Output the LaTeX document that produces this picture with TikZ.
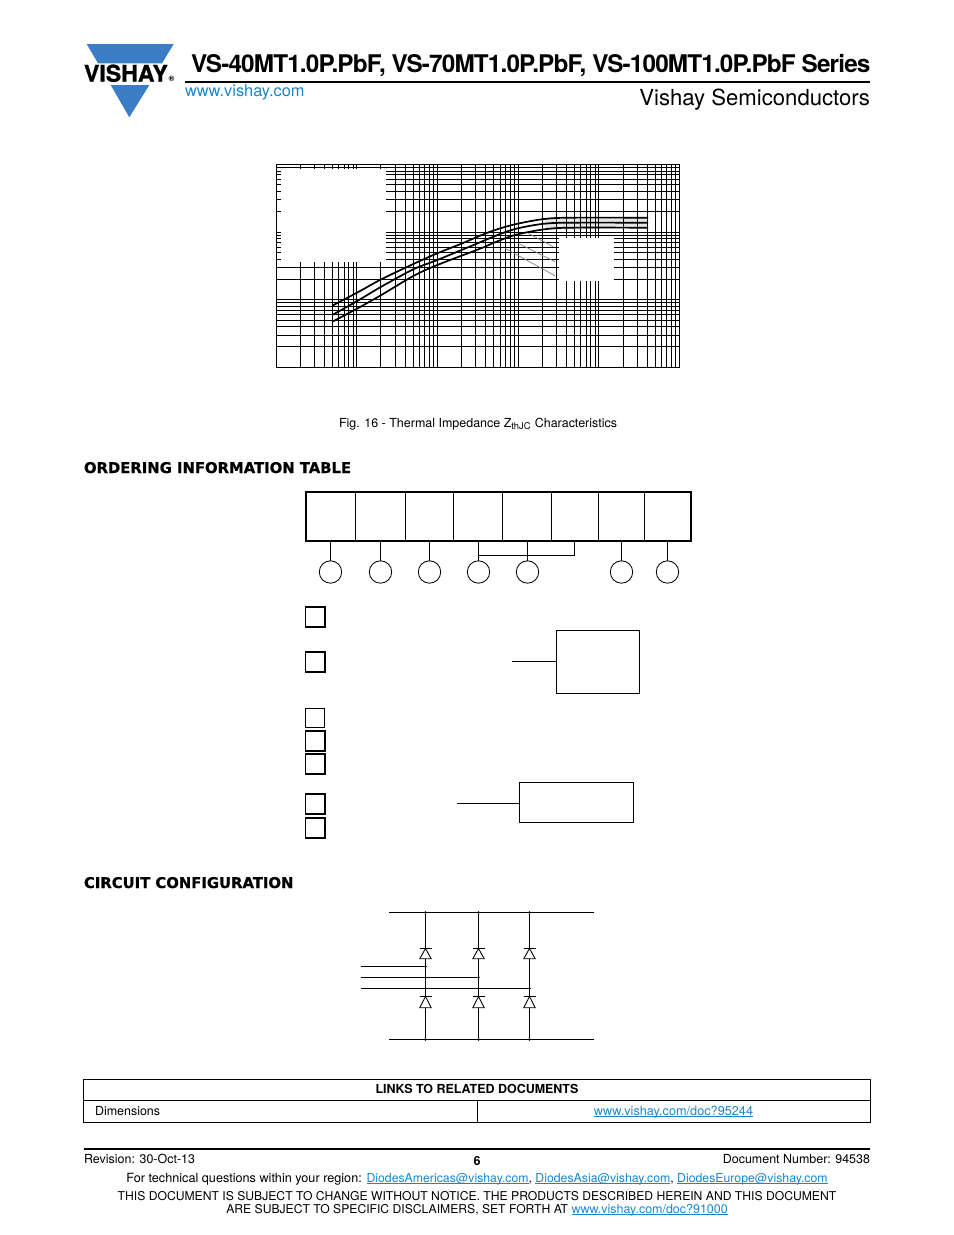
\documentclass[tikz,border=0pt]{standalone}
\usepackage{fontspec}
\setmainfont{TeX Gyre Heros}
\newfontfamily\headfont{DejaVu Sans}[BoldFeatures={FakeBold=0.7}]
\usetikzlibrary{positioning,calc}
\definecolor{logoblue}{HTML}{3B7EC6}
\definecolor{linkblue}{HTML}{1B85C9}
\newdimen\pxu
\pxu=0.6415pt
\newcommand{\weblink}[1]{\textcolor{linkblue}{\setbox0\hbox{#1}\rlap{\rule[-1pt]{\wd0}{0.45pt}}\box0}}

\begin{document}
\begin{tikzpicture}[
    x=0.6415pt, y=-0.6415pt,
    every node/.style={inner sep=0pt, outer sep=0pt},
    txt/.style={font=\fontsize{8}{9.6}\selectfont, anchor=base},
    capstxt/.style={font=\fontsize{7.8}{9.6}\selectfont, anchor=base},
    heading/.style={font=\headfont\bfseries\fontsize{9.5}{11}\selectfont, anchor=base west},
    gridline/.style={draw, line width=0.65pt},
    curve/.style={line width=1.1pt, line join=round},
    leaderline/.style={draw=black!50, line width=0.45pt},
    cellframe/.style={rectangle, draw, line width=1.3pt, minimum width=385.5\pxu, minimum height=49\pxu},
    slot/.style={circle, draw, line width=0.55pt, minimum size=22.4\pxu},
    tick/.style={rectangle, draw, line width=1.15pt, minimum size=19.5\pxu},
    tickthin/.style={tick, line width=0.8pt},
    notebox/.style={rectangle, draw, line width=0.65pt},
    wire/.style={line width=0.62pt},
    thinwire/.style={line width=0.55pt},
    dot/.style={circle, fill, minimum size=2.6\pxu},
    rule/.style={line width=1pt}
]
\useasboundingbox (0,0) rectangle (954,1235);

% Header
\fill [logoblue] (86.7,44) -- (173.7,44) -- (162,63.3) -- (98,63.3) -- cycle;
\fill [logoblue] (110.7,85) -- (149.3,85) -- (129.3,117.3) -- cycle;
\node [anchor=base west, font=\bfseries\fontsize{14.8}{15}\selectfont\addfontfeatures{FakeBold=1}] (logo) at (84,81.7) {VISHAY};
\node [anchor=base west, font=\bfseries\fontsize{5}{5}\selectfont] (reg) at (168.5,81.7) {®};
\node [anchor=base west, font=\bfseries\fontsize{15.6}{16}\selectfont\addfontfeatures{LetterSpace=-3.5}] (title) at (191,72.5) {VS-40MT1.0P.PbF, VS-70MT1.0P.PbF, VS-100MT1.0P.PbF Series};
\coordinate (ruleA) at (185,82);
\coordinate (ruleB) at (870,82);
\draw [rule] (ruleA) -- (ruleB);
\node [anchor=base west, font=\fontsize{10.5}{11}\selectfont, text=linkblue] (web) at (185,96) {www.vishay.com};
\node [anchor=base east, font=\fontsize{14.2}{15}\selectfont] (division) at (870,105) {Vishay Semiconductors};

% Impedance chart
\fill [black!10] (545,219) -- (648,217.7) -- (648,227.7) -- (545,230) -- cycle;
\foreach \d in {0,...,4} \foreach \m in {1,...,9} {
    \pgfmathsetmacro{\px}{floor(276+80.7*(\d+log10(\m)))+0.5}
    \draw [gridline] (\px,164.5) -- (\px,367.5);
}
\foreach \d in {0,1,2} \foreach \m in {1,...,9} {
    \pgfmathsetmacro{\py}{floor(164.5+67.6*(\d+1-log10(\m)))+0.5}
    \draw [gridline] (276.5,\py) -- (679.5,\py);
}
\draw [gridline] (276.5,164.5) rectangle (679.5,367.5);
\fill [white] (281,168.6) rectangle (386,262);
\fill [white] (559,237.7) rectangle (613.7,281);
\draw [leaderline] (528.3,233.3) -- (553.3,246.7);
\draw [leaderline] (518.3,243.3) -- (555,261.7);
\draw [leaderline] (505,248.3) -- (555,275.7);
\foreach \pts in {
    {(332.3,305.7) (357.7,292.3) (381.3,279.3) (413.3,264) (437.3,253.3) (462.3,243.3) (480,235.7) (495,230) (515,224.3) (541.7,219.3) (568,217.7) (648,217.7)},
    {(332.3,315) (357.7,300.7) (381.3,286.7) (413.3,269.3) (437.3,260) (480,242.3) (495,236) (515,229) (541.7,224) (568,222.7) (648,222.7)},
    {(332.3,321.7) (357.7,308.3) (381.3,295) (413.3,276) (437.3,265) (480,248.7) (495,242.3) (515,235) (541.7,229.7) (568,227.7) (648,227.7)}} {
    \draw [curve] plot [smooth, tension=0.5] coordinates \pts;
}
\node [txt] (caption) at (478,427) {Fig. 16 - Thermal Impedance Z\textsubscript{thJC} Characteristics};

% Ordering table
\node [heading] (ordering) at (84,473) {ORDERING INFORMATION TABLE};
\node [cellframe] (frame) at (498.7,516.5) {};
\foreach \x in {355.5,405.5,453.5,502.5,551.5,598.5,644.5}
    \draw [thinwire] (\x,492) -- (\x,541);
\foreach \n/\x in {d1/330.5,d2/380.5,d3/429.5,d4/478.5,d5/527.5,d6/621.5,d7/667.5} {
    \node [slot] (\n) at (\x,572) {};
    \draw [thinwire] (\n.north) -- (\n.north |- frame.south);
}
\coordinate (brk) at (574.5,555.5);
\draw [thinwire] (d4 |- brk) -- (brk) -- (brk |- frame.south);

% Option boxes
\foreach \n/\y in {b1/617,b2/662,b4/741,b5/764,b6/804,b7/828}
    \node [tick] (\n) at (315.3,\y) {};
\node [tickthin] (b3) at (315,718) {};
\node [notebox, minimum width=83.4\pxu, minimum height=63.4\pxu] (noteA) at (598,662) {};
\node [notebox, minimum width=114.4\pxu, minimum height=40\pxu] (noteB) at (576.5,802.3) {};
\coordinate (leadA) at (512,661.5);
\coordinate (leadB) at (457,803.5);
\draw [thinwire] (leadA) -- (noteA.west |- leadA);
\draw [thinwire] (leadB) -- (noteB.west |- leadB);

% Circuit
\node [heading] (circuit) at (84,888) {CIRCUIT CONFIGURATION};
\coordinate (railTL) at (389,912.5);
\coordinate (railTR) at (593.7,912.5);
\coordinate (railBL) at (389,1039.5);
\coordinate (railBR) at (593.7,1039.5);
\draw [wire] (railTL) -- (railTR);
\draw [wire] (railBL) -- (railBR);
\foreach \n/\x/\y in {a/425.5/966.5,b/478.5/977.5,c/529.5/988.5} {
    \node [dot] (top\n) at (\x,912.5) {};
    \node [dot] (bot\n) at (\x,1039.5) {};
    \node [dot] (mid\n) at (\x,\y) {};
    \coordinate (in\n) at (360.7,\y);
    \draw [wire] (top\n) -- (bot\n);
    \draw [wire] (in\n) -- (mid\n);
    \draw [thinwire, fill=white] (\x,948.5) -- (\x+5.7,958.7) -- (\x-5.7,958.7) -- cycle;
    \draw [wire] (\x-6,948.5) -- (\x+6,948.5);
    \draw [thinwire, fill=white] (\x,996.5) -- (\x+5.7,1007.7) -- (\x-5.7,1007.7) -- cycle;
    \draw [wire] (\x-6,996.5) -- (\x+6,996.5);
}

% Links table
\draw [thinwire] (83.5,1079) rectangle (870,1122);
\draw [thinwire] (83.5,1100.5) -- (870,1100.5);
\draw [thinwire] (477.5,1100.5) -- (477.5,1122);
\node [txt, font=\bfseries\fontsize{8}{9.6}\selectfont] (linkshead) at (477,1093) {LINKS TO RELATED DOCUMENTS};
\node [txt, anchor=base west] (dims) at (95,1115) {Dimensions};
\node [txt, font=\fontsize{8.15}{9.6}\selectfont] (dimslink) at (673.5,1115) {\weblink{www.vishay.com/doc?95244}};

% Footer
\coordinate (footA) at (84,1149);
\coordinate (footB) at (870,1149);
\draw [rule] (footA) -- (footB);
\node [txt, anchor=base west] (revision) at (84,1163) {Revision: 30-Oct-13};
\node [txt, font=\bfseries\fontsize{8}{9.6}\selectfont] (pageno) at (477,1165) {6};
\node [txt, anchor=base east] (docnum) at (870,1163) {Document Number: 94538};
\node [txt, font=\fontsize{8.12}{9.6}\selectfont] (questions) at (477,1182) {For technical questions within your region: {\fontsize{7.88}{9.6}\selectfont\weblink{DiodesAmericas@vishay.com}, \weblink{DiodesAsia@vishay.com}, \weblink{DiodesEurope@vishay.com}}};
\node [capstxt] (disclaimA) at (477,1200) {THIS DOCUMENT IS SUBJECT TO CHANGE WITHOUT NOTICE. THE PRODUCTS DESCRIBED HEREIN AND THIS DOCUMENT};
\node [capstxt] (disclaimB) at (477,1213) {ARE SUBJECT TO SPECIFIC DISCLAIMERS, SET FORTH AT \weblink{\fontsize{8}{9.6}\selectfont www.vishay.com/doc?91000}};
\end{tikzpicture}
\end{document}
